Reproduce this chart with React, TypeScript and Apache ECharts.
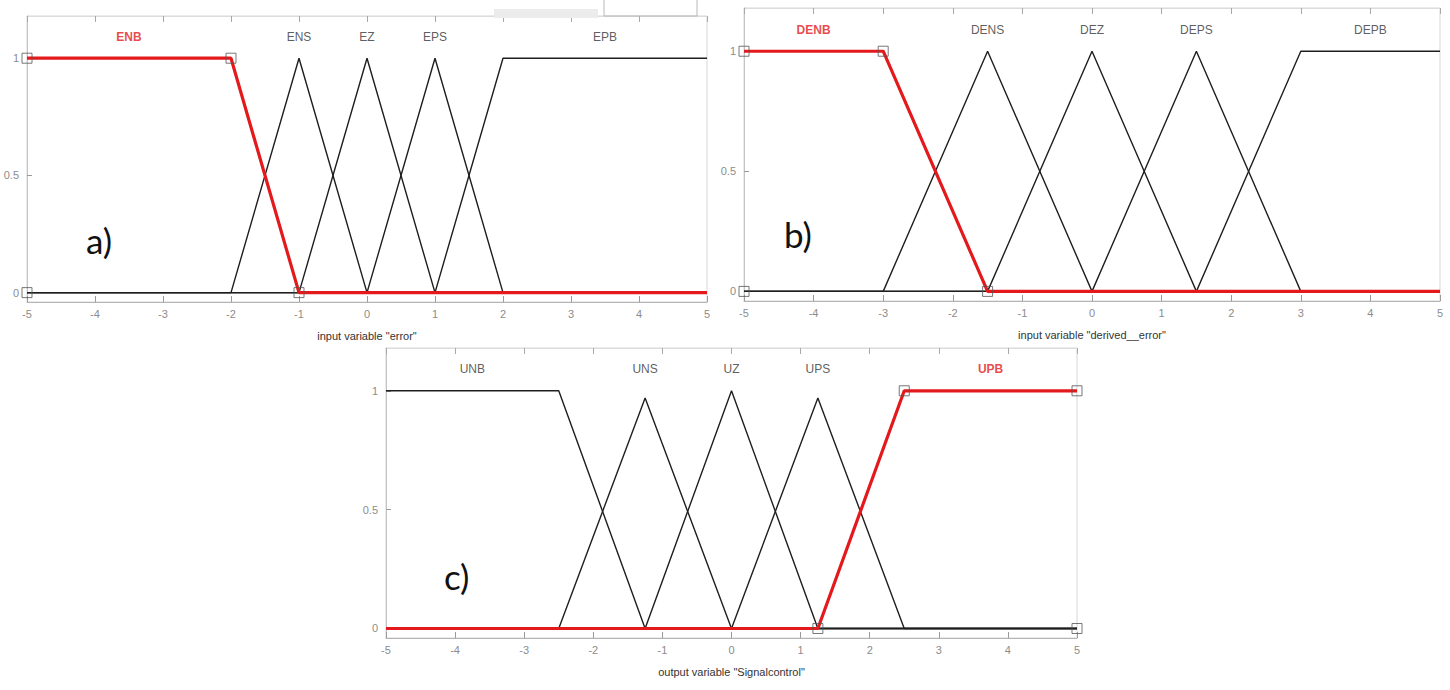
import React, { useEffect, useRef } from "react";
import * as echarts from "echarts";

// ---------- Panel a: input "error" ----------
const aNames = ["ENB", "ENS", "EZ", "EPS", "EPB"];
const aLabelX = [-3.5, -1, 0, 1, 3.5];
const aENB = [[-5, 1], [-2, 1], [-1, 0], [5, 0]];
const aENS = [[-5, 0], [-2, 0], [-1, 1], [0, 0], [5, 0]];
const aEZ = [[-5, 0], [-1, 0], [0, 1], [1, 0], [5, 0]];
const aEPS = [[-5, 0], [0, 0], [1, 1], [2, 0], [5, 0]];
const aEPB = [[-5, 0], [1, 0], [2, 1], [5, 1]];
const aMarks = [[-5, 0], [-5, 1], [-2, 1], [-1, 0]];

// ---------- Panel b: input "derived__error" ----------
const bNames = ["DENB", "DENS", "DEZ", "DEPS", "DEPB"];
const bLabelX = [-4, -1.5, 0, 1.5, 4];
const bDENB = [[-5, 1], [-3, 1], [-1.5, 0], [5, 0]];
const bDENS = [[-5, 0], [-3, 0], [-1.5, 1], [0, 0], [5, 0]];
const bDEZ = [[-5, 0], [-1.5, 0], [0, 1], [1.5, 0], [5, 0]];
const bDEPS = [[-5, 0], [0, 0], [1.5, 1], [3, 0], [5, 0]];
const bDEPB = [[-5, 0], [1.5, 0], [3, 1], [5, 1]];
const bMarks = [[-5, 0], [-5, 1], [-3, 1], [-1.5, 0]];

// ---------- Panel c: output "Signalcontrol" ----------
const cNames = ["UNB", "UNS", "UZ", "UPS", "UPB"];
const cLabelX = [-3.75, -1.25, 0, 1.25, 3.75];
const cUNB = [[-5, 1], [-2.5, 1], [-1.25, 0], [5, 0]];
const cUNS = [[-5, 0], [-2.5, 0], [-1.25, 0.97], [0, 0], [5, 0]];
const cUZ = [[-5, 0], [-1.25, 0], [0, 1], [1.25, 0], [5, 0]];
const cUPS = [[-5, 0], [0, 0], [1.25, 0.97], [2.5, 0], [5, 0]];
const cUPB = [[-5, 0], [1.25, 0], [2.5, 1], [5, 1]];
const cMarks = [[1.25, 0], [2.5, 1], [5, 1], [5, 0]];

const yTicks = [0, 0.5, 1];
const labelY = 1.09;
const Y_MIN = -0.04;
const Y_MAX = 1.18;

const RED = "#e3191c";
const BLACK = "#1e1e1e";
const FONT = "'Liberation Sans Narrow', 'Liberation Sans', Arial, sans-serif";

const panels = [
  {
    title: 'input variable "error"',
    names: aNames,
    labelX: aLabelX,
    black: [aENS, aEZ, aEPS, aEPB],
    red: aENB,
    redIndex: 0,
    marks: aMarks,
    grid: { left: 27, top: 16, width: 680, height: 286 },
    tag: "a)",
    tagPos: [86, 222],
  },
  {
    title: 'input variable "derived__error"',
    names: bNames,
    labelX: bLabelX,
    black: [bDENS, bDEZ, bDEPS, bDEPB],
    red: bDENB,
    redIndex: 0,
    marks: bMarks,
    grid: { left: 744, top: 8, width: 696, height: 293 },
    tag: "b)",
    tagPos: [784, 216],
  },
  {
    title: 'output variable "Signalcontrol"',
    names: cNames,
    labelX: cLabelX,
    black: [cUNB, cUNS, cUZ, cUPS],
    red: cUPB,
    redIndex: 4,
    marks: cMarks,
    grid: { left: 386, top: 348, width: 691, height: 290 },
    tag: "c)",
    tagPos: [444, 558],
  },
];

export default function App() {
  const ref = useRef<HTMLDivElement>(null);

  useEffect(() => {
    document.body.style.margin = "0";
    if (!ref.current) return;
    const chart = echarts.init(ref.current, null, { renderer: "svg" });

    const grid: any[] = [];
    const xAxis: any[] = [];
    const yAxis: any[] = [];
    const series: any[] = [];
    const graphic: any[] = [];

    panels.forEach((p, i) => {
      grid.push({
        ...p.grid,
        show: true,
        borderColor: "#d6d6d6",
        borderWidth: 1,
        backgroundColor: "transparent",
        containLabel: false,
      });
      xAxis.push({
        type: "value",
        gridIndex: i,
        position: "bottom",
        min: -5,
        max: 5,
        interval: 1,
        axisLine: { show: true, onZero: false, lineStyle: { color: "#b4b4b4", width: 1 } },
        axisTick: { show: true, inside: true, length: 6, lineStyle: { color: "#9a9a9a" } },
        axisLabel: { color: "#8c8c8c", fontSize: 11, margin: 6, fontFamily: FONT },
        splitLine: { show: false },
        name: p.title,
        nameLocation: "middle",
        nameGap: 28,
        nameTextStyle: { color: "#333", fontSize: 11, fontFamily: FONT },
      });
      xAxis.push({
        type: "value",
        gridIndex: i,
        position: "top",
        min: -5,
        max: 5,
        interval: 1,
        axisLine: { show: true, onZero: false, lineStyle: { color: "#dcdcdc", width: 1 } },
        axisTick: { show: true, inside: true, length: 6, lineStyle: { color: "#a8a8a8" } },
        axisLabel: { show: false },
        splitLine: { show: false },
      });
      yAxis.push({
        type: "value",
        gridIndex: i,
        min: Y_MIN,
        max: Y_MAX,
        axisLine: { show: true, onZero: false, lineStyle: { color: "#c4c4c4", width: 1 } },
        axisTick: { show: true, inside: true, length: 5, customValues: yTicks, lineStyle: { color: "#9a9a9a" } },
        axisLabel: { show: true, customValues: yTicks, color: "#8c8c8c", fontSize: 11, margin: 8, fontFamily: FONT },
        splitLine: { show: false },
      });

      const xIdx = i * 2;
      p.black.forEach((d) => {
        series.push({
          type: "line",
          xAxisIndex: xIdx,
          yAxisIndex: i,
          data: d,
          symbol: "none",
          lineStyle: { color: BLACK, width: 1.4 },
          z: 2,
          silent: true,
        });
      });
      series.push({
        type: "line",
        xAxisIndex: xIdx,
        yAxisIndex: i,
        data: p.red,
        symbol: "none",
        lineStyle: { color: RED, width: 3.2 },
        z: 3,
        silent: true,
      });
      series.push({
        type: "scatter",
        xAxisIndex: xIdx,
        yAxisIndex: i,
        data: p.marks,
        symbol: "rect",
        symbolSize: 10,
        clip: false,
        itemStyle: { color: "rgba(0,0,0,0)", borderColor: "#555", borderWidth: 1 },
        z: 4,
        silent: true,
      });
      series.push({
        type: "scatter",
        xAxisIndex: xIdx,
        yAxisIndex: i,
        data: p.names.map((n, k) =>
          k === p.redIndex
            ? { value: [p.labelX[k], labelY, n], label: { color: RED, fontWeight: "bold" } }
            : { value: [p.labelX[k], labelY, n] }
        ),
        symbolSize: 1,
        itemStyle: { color: "rgba(0,0,0,0)" },
        clip: false,
        silent: true,
        z: 5,
        label: {
          show: true,
          position: "inside",
          formatter: (q: any) => q.value[2],
          fontSize: 12,
          fontFamily: FONT,
          color: "#333",
        },
        labelLayout: { hideOverlap: false },
      });

      graphic.push({
        type: "text",
        left: p.tagPos[0],
        top: p.tagPos[1],
        style: { text: p.tag, fontSize: 35, fontFamily: "Lato, 'Open Sans', sans-serif", fill: "#111" },
        z: 10,
      });
    });

    // screenshot artefacts at the top of panel a
    graphic.push({
      type: "rect",
      shape: { x: 494, y: 9, width: 104, height: 9 },
      style: { fill: "#ececec" },
      z: 10,
    });
    graphic.push({
      type: "polyline",
      shape: { points: [[604, 0], [604, 16], [697, 16], [697, 0]] },
      style: { stroke: "#b8b8b8", fill: "none", lineWidth: 1 },
      z: 10,
    });

    chart.setOption({
      animation: false,
      backgroundColor: "#fff",
      grid,
      xAxis,
      yAxis,
      series,
      graphic,
    });

    return () => chart.dispose();
  }, []);

  return <div ref={ref} style={{ width: 1450, height: 690 }} />;
}
